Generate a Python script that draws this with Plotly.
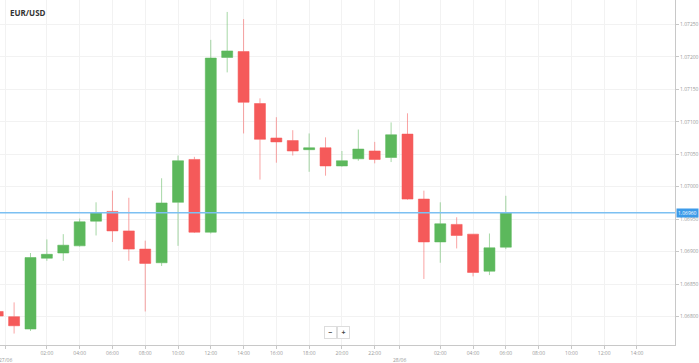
import plotly.graph_objects as go

# hours since 27/06 00:00
hours = list(range(-1, 31))
open_ = [1.06808, 1.06800, 1.06781, 1.06890, 1.06898, 1.06909, 1.06947, 1.06962,
         1.06932, 1.06904, 1.06883, 1.06976, 1.07042, 1.06930, 1.07199, 1.07208,
         1.07128, 1.07075, 1.07071, 1.07057, 1.07060, 1.07032, 1.07043, 1.07055,
         1.07045, 1.07081, 1.06981, 1.06915, 1.06942, 1.06927, 1.06870, 1.06907]
high = [1.06810, 1.06822, 1.06898, 1.06919, 1.06927, 1.06951, 1.06976, 1.06994,
        1.06983, 1.06917, 1.07013, 1.07048, 1.07046, 1.07226, 1.07269, 1.07258,
        1.07136, 1.07107, 1.07087, 1.07082, 1.07076, 1.07055, 1.07088, 1.07069,
        1.07099, 1.07113, 1.06994, 1.06976, 1.06953, 1.06927, 1.06928, 1.06986]
low = [1.06798, 1.06774, 1.06778, 1.06886, 1.06886, 1.06908, 1.06925, 1.06915,
       1.06886, 1.06808, 1.06878, 1.06909, 1.06929, 1.06928, 1.07176, 1.07082,
       1.07011, 1.07037, 1.07048, 1.07023, 1.07017, 1.07031, 1.07040, 1.07036,
       1.07038, 1.06980, 1.06858, 1.06883, 1.06905, 1.06862, 1.06864, 1.06904]
close = [1.06801, 1.06786, 1.06891, 1.06896, 1.06910, 1.06946, 1.06960, 1.06932,
         1.06904, 1.06882, 1.06975, 1.07040, 1.06930, 1.07198, 1.07209, 1.07130,
         1.07073, 1.07069, 1.07055, 1.07060, 1.07032, 1.07040, 1.07058, 1.07042,
         1.07080, 1.06981, 1.06915, 1.06943, 1.06925, 1.06868, 1.06906, 1.06960]

current_price = 1.06960
y_ticks = [1.06800, 1.06850, 1.06900, 1.06950, 1.07000, 1.07050, 1.07100, 1.07150, 1.07200, 1.07250]
x_tick_vals = [-0.5, 2, 4, 6, 8, 10, 12, 14, 16, 18, 20, 22, 23.5, 26, 28, 30, 32, 34, 36, 38]
x_tick_text = ["", "02:00", "04:00", "06:00", "08:00", "10:00", "12:00", "14:00",
               "16:00", "18:00", "20:00", "22:00", "", "02:00", "04:00", "06:00",
               "08:00", "10:00", "12:00", "14:00"]
day_vals = [-0.5, 23.5]
day_text = ["27/06", "28/06"]

fig = go.Figure()
fig.add_trace(go.Candlestick(
    x=hours, open=open_, high=high, low=low, close=close,
    increasing=dict(fillcolor="#5cb85c", line=dict(color="rgba(92,184,92,0.55)", width=1)),
    decreasing=dict(fillcolor="#f55a5a", line=dict(color="rgba(245,90,90,0.55)", width=1)),
    whiskerwidth=0, showlegend=False, hoverinfo="skip",
))

fig.add_shape(type="line", xref="paper", x0=0, x1=1, yref="y", y0=current_price, y1=current_price,
              line=dict(color="#7cc0f2", width=1.5))

fig.add_annotation(xref="paper", x=1.0, yref="y", y=current_price, xanchor="left", yanchor="middle",
                   text=f"{current_price:.5f}", showarrow=False, xshift=1,
                   font=dict(size=5, color="white", family="Open Sans"),
                   bgcolor="#3d9be9", borderpad=1)

for dv, dt in zip(day_vals, day_text):
    fig.add_annotation(xref="x", x=dv, yref="paper", y=0, yanchor="top", xanchor="center",
                       yshift=-10, text=dt, showarrow=False,
                       font=dict(size=5, color="#999999", family="Open Sans"))

fig.add_annotation(xref="paper", yref="paper", x=0.012, y=0.985, xanchor="left", yanchor="top",
                   text="<b>EUR/USD</b>", showarrow=False,
                   font=dict(size=8, color="#333333", family="Open Sans"))

for xx, t in [(0.49, "−"), (0.509, "+")]:
    fig.add_annotation(xref="paper", yref="paper", x=xx, y=0.035, xanchor="center", yanchor="middle",
                       text=f"<b>{t}</b>", showarrow=False, bgcolor="white", bordercolor="#dddddd",
                       borderwidth=1, borderpad=1, width=9, height=9,
                       font=dict(size=7, color="#444444", family="Open Sans"))

fig.update_layout(
    width=699, height=363,
    margin=dict(l=0, r=22, t=0, b=18),
    paper_bgcolor="white", plot_bgcolor="white",
    boxgap=0.33, boxgroupgap=0,
    font=dict(family="Open Sans", size=5, color="#999999"),
    xaxis=dict(range=[-0.86, 40.32], tickmode="array", tickvals=x_tick_vals, ticktext=x_tick_text,
               showgrid=True, gridcolor="#f2f2f2", gridwidth=1, zeroline=False,
               showline=True, linecolor="#c8c8c8", linewidth=1,
               ticks="outside", ticklen=3, tickcolor="#c8c8c8",
               tickfont=dict(size=5, color="#999999"), rangeslider=dict(visible=False), fixedrange=True),
    yaxis=dict(side="right", range=[1.067564, 1.072874], tickmode="array", tickvals=y_ticks,
               ticktext=[f"{v:.5f}" for v in y_ticks],
               showgrid=True, gridcolor="#f2f2f2", gridwidth=1, zeroline=False,
               showline=True, linecolor="#c8c8c8", linewidth=1,
               ticks="outside", ticklen=3, tickcolor="#c8c8c8",
               tickfont=dict(size=5, color="#999999"), fixedrange=True),
)

fig.write_html("out.html", config={"displayModeBar": False},
               post_script="document.body.style.margin='0';document.body.style.padding='0';")
